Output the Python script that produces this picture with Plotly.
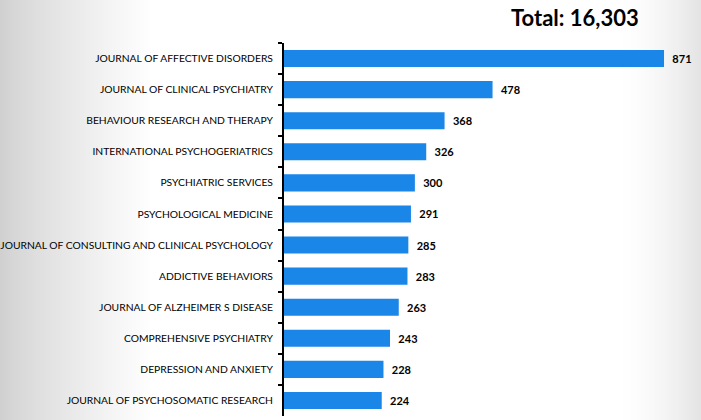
import plotly.graph_objects as go

journals = [
    "JOURNAL OF AFFECTIVE DISORDERS",
    "JOURNAL OF CLINICAL PSYCHIATRY",
    "BEHAVIOUR RESEARCH AND THERAPY",
    "INTERNATIONAL PSYCHOGERIATRICS",
    "PSYCHIATRIC SERVICES",
    "PSYCHOLOGICAL MEDICINE",
    "JOURNAL OF CONSULTING AND CLINICAL PSYCHOLOGY",
    "ADDICTIVE BEHAVIORS",
    "JOURNAL OF ALZHEIMER S DISEASE",
    "COMPREHENSIVE PSYCHIATRY",
    "DEPRESSION AND ANXIETY",
    "JOURNAL OF PSYCHOSOMATIC RESEARCH",
]
counts = [871, 478, 368, 326, 300, 291, 285, 283, 263, 243, 228, 224]
total_label = "Total: 16,303"

W, H = 701, 420
L, T, B = 284, 43, 4
PW, PH = W - L, H - T - B
FONT = "Lato, Liberation Sans"

fig = go.Figure(go.Bar(
    x=counts, y=journals, orientation="h",
    marker=dict(color="#1a86e8", line=dict(width=0)),
    width=0.55,
    text=[str(c) for c in counts], textposition="outside",
    textfont=dict(family=FONT, size=11, color="#000000"),
    texttemplate="<b>\u00a0\u00a0%{text}</b>",
    cliponaxis=False,
))


def px_x(p):
    return (p - L) / PW


def px_y(p):
    return (H - B - p) / PH


# soft grey vignette on the left and right edges, drawn as thin strips
shapes = []
for i in range(75):
    t = (i / 75) ** 0.8
    g = int(208 + 47 * t)
    shapes.append(dict(type="rect", xref="paper", yref="paper", layer="below",
                       x0=px_x(i * 2), x1=px_x(i * 2 + 2.5), y0=px_y(H), y1=px_y(0),
                       line=dict(width=0), fillcolor=f"rgb({g},{g},{g})"))
for i in range(40):
    t = (i / 40) ** 1.6
    g = int(255 - 28 * t)
    shapes.append(dict(type="rect", xref="paper", yref="paper", layer="below",
                       x0=px_x(621 + i * 2), x1=px_x(621 + i * 2 + 2.5), y0=px_y(H), y1=px_y(0),
                       line=dict(width=0), fillcolor=f"rgb({g},{g},{g})"))

fig.update_layout(
    width=W, height=H,
    margin=dict(l=L, r=0, t=T, b=B, autoexpand=False),
    paper_bgcolor="#ffffff", plot_bgcolor="rgba(0,0,0,0)",
    showlegend=False,
    shapes=shapes,
    font=dict(family=FONT, size=11, color="#000000"),
    annotations=[dict(text=f"<b>{total_label}</b>", xref="paper", yref="paper",
                      x=px_x(575), y=px_y(18), showarrow=False,
                      xanchor="center", yanchor="middle",
                      font=dict(family=FONT, size=22, color="#000000"))],
)
fig.update_xaxes(range=[0, PW / 0.4363], visible=False, showgrid=False, zeroline=False,
                 automargin=False)
fig.update_yaxes(autorange="reversed", showline=True, linecolor="#000000", linewidth=2,
                 ticks="outside", ticklen=4, tickwidth=2, tickcolor="#000000",
                 tickson="boundaries", showgrid=False, automargin=False,
                 ticklabelstandoff=7,
                 tickfont=dict(family=FONT, size=10.3, color="#000000"))

# drop the browser's default body margin so the figure sits at the page corner
fig.write_html("out.html", config={"displayModeBar": False},
               post_script="document.body.style.margin='0';")
